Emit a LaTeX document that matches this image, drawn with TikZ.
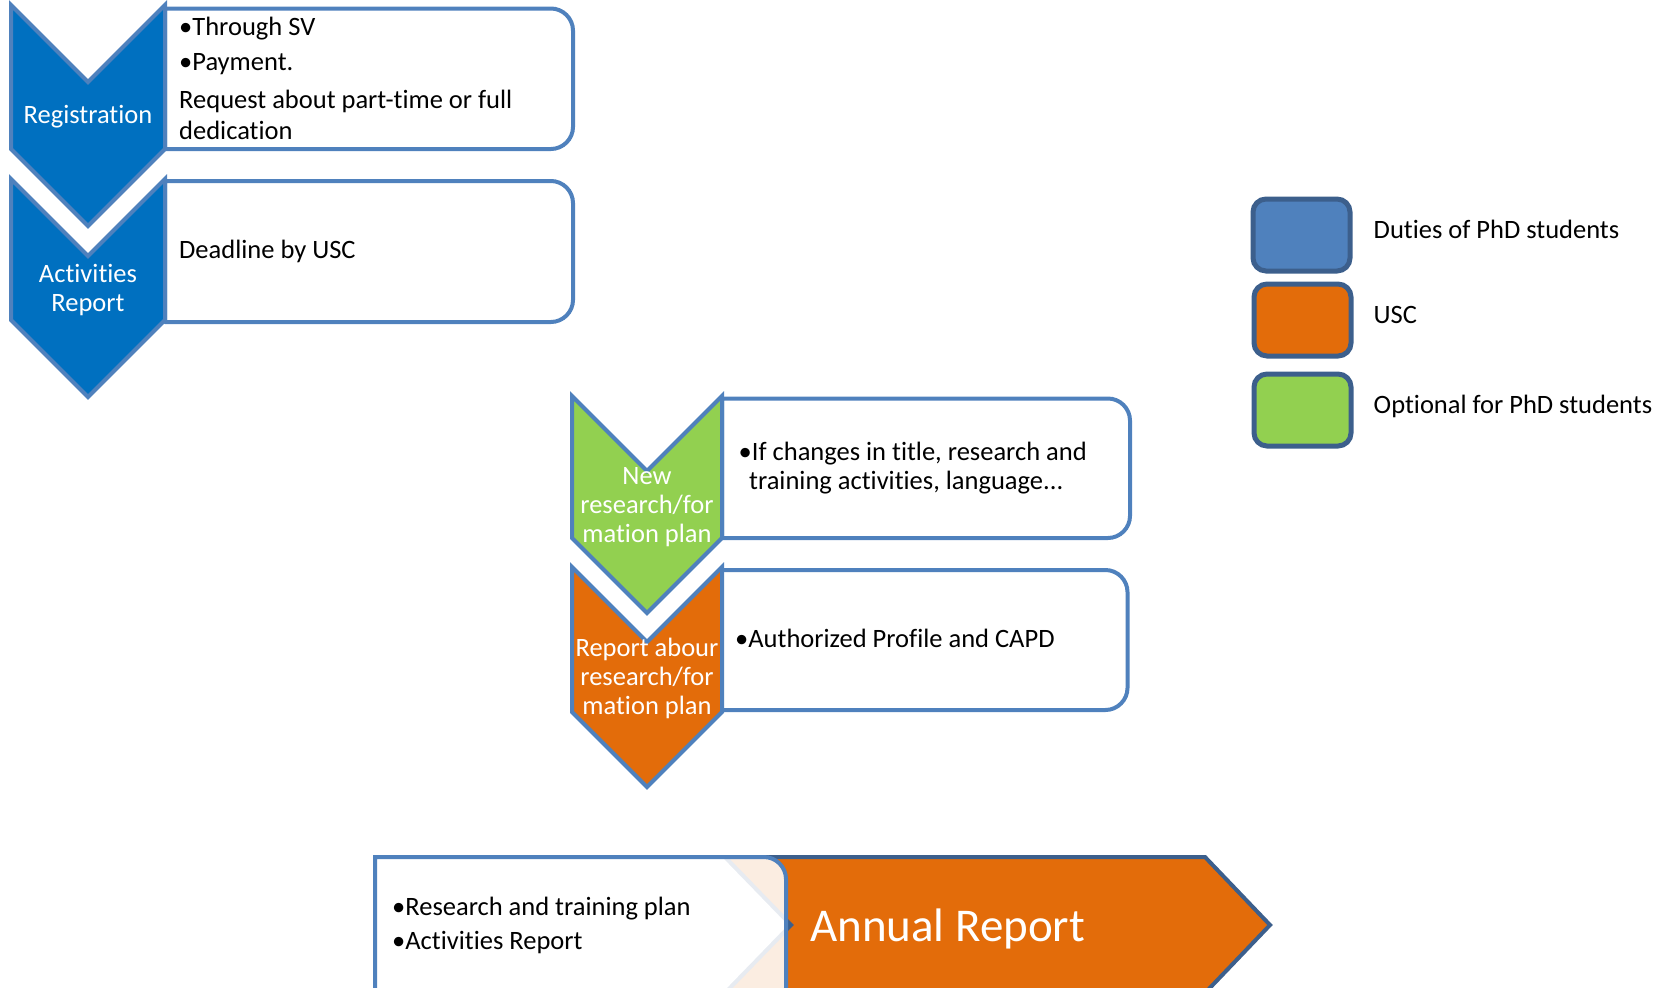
\documentclass[tikz,border=0pt]{standalone}
\usepackage{fontspec}
\setmainfont{Carlito}[Ligatures={NoCommon}]
\definecolor{edgeblue}{HTML}{4F81BD}
\definecolor{darkedge}{HTML}{3C5F8C}
\definecolor{chevblue}{HTML}{0070C0}
\definecolor{uscorange}{HTML}{E36C0A}
\definecolor{optgreen}{HTML}{92D050}
\definecolor{legblue}{HTML}{4F81BD}
\newcommand\infobox[5]{\draw[#5] (#1,#2) -- ({#3-22},#2) .. controls ({#3-10},#2) and (#3,{#2+10}) .. (#3,{#2+22}) -- (#3,{#4-22}) .. controls (#3,{#4-10}) and ({#3-10},#4) .. ({#3-22},#4) -- (#1,#4) -- cycle;}
\newcommand\chevshape[5]{\draw[#5] (#1,#3) -- ({(#1+#2)/2},{#3+(#2-#1)/2}) -- (#2,#3) -- (#2,#4) -- ({(#1+#2)/2},{#4+(#2-#1)/2}) -- (#1,#4) -- cycle;}
\begin{document}
\begin{tikzpicture}[x=1pt,y=-1pt,
  boxst/.style={draw=edgeblue, line width=4pt, fill=white, line join=round},
  chevst/.style={draw=edgeblue, line width=4pt, line join=miter},
  legst/.style={draw=darkedge, line width=5pt, rounded corners=13pt},
  lbl/.style={font=\fontsize{26.5}{32}\selectfont, inner sep=0pt},
  tx/.style={lbl, anchor=base west, text=black},
  wt/.style={lbl, anchor=base, text=white}]
\useasboundingbox (0,0) rectangle (1671,988);
\clip (0,0) rectangle (1671,988);

% top-left group
\infobox{165}{8.5}{573}{149}{boxst}
\infobox{165}{181}{573}{322}{boxst}
\chevshape{11}{165}{5}{149}{chevst, fill=chevblue}
\chevshape{11}{165}{179}{320}{chevst, fill=chevblue}
\node[wt] (reg) at (88,123) {Registration};
\node[wt] (act1) at (88,282) {Activities};
\node[wt] (act2) at (88,311) {Report};
\node[tx] (t1) at (179,35) {•Through SV};
\node[tx] (t2) at (179,70) {•Payment.};
\node[tx] (t3) at (179,108) {Request about part-time or full};
\node[tx] (t4) at (179,139) {dedication};
\node[tx] (t5) at (179,258) {Deadline by USC};

% middle group
\infobox{722}{398.5}{1130}{538}{boxst}
\infobox{720}{570}{1127.5}{710}{boxst}
\chevshape{572}{722}{396}{538}{chevst, fill=optgreen}
\chevshape{572}{722}{567}{712}{chevst, fill=uscorange}
\node[wt] (g1) at (647,484) {New};
\node[wt] (g2) at (647,513) {research/for};
\node[wt] (g3) at (647,542) {mation plan};
\node[wt] (o1) at (647,656) {Report abour};
\node[wt] (o2) at (647,685) {research/for};
\node[wt] (o3) at (647,714) {mation plan};
\node[tx] (m1) at (738.5,460) {•If changes in title, research and};
\node[tx] (m2) at (749,489) {training activities, language...};
\node[tx] (m3) at (735,647) {•Authorized Profile and CAPD};

% annual report
\draw[draw=darkedge, line width=4pt, fill=uscorange, line join=miter]
  (725,857) -- (1205,857) -- (1270,925) -- (1205,993) -- (725,993) -- (791,925) -- cycle;
\infobox{375}{857}{786}{1010}{draw=edgeblue, line width=4pt, fill=white, fill opacity=0.88}
\node[lbl, anchor=base west, text=white, font=\fontsize{47}{56}\selectfont] (ar) at (810,941) {Annual Report};
\node[tx] (b1) at (392,915) {•Research and training plan};
\node[tx] (b2) at (392,949) {•Activities Report};

% legend
\draw[legst, fill=legblue] (1253,199) rectangle (1350,271);
\draw[legst, fill=uscorange] (1254,284) rectangle (1351,356);
\draw[legst, fill=optgreen] (1254,374) rectangle (1351,446);
\node[tx] (l1) at (1373.5,238) {Duties of PhD students};
\node[tx] (l2) at (1373.5,323) {USC};
\node[tx] (l3) at (1373.5,413) {Optional for PhD students};
\end{tikzpicture}
\end{document}
